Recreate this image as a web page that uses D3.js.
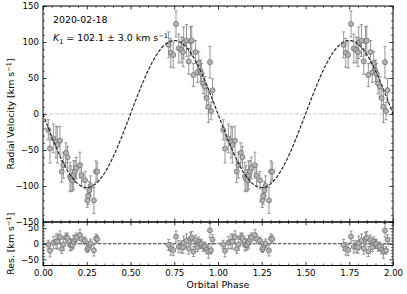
<!DOCTYPE html>
<html>
<head>
<meta charset="utf-8">
<script src="https://cdn.jsdelivr.net/npm/d3@7"></script>
<style>
  body { margin: 0; background: #fff; }
  svg text { font-family: "DejaVu Sans", sans-serif; fill: #000; }
</style>
</head>
<body>
<svg id="container"></svg>
<script>
// observed radial velocities (one cycle, plotted twice)
var phases = [0.030, 0.040, 0.059, 0.074, 0.082, 0.097, 0.107, 0.116, 0.131, 0.140,
              0.154, 0.160, 0.168, 0.175, 0.183, 0.190, 0.211, 0.220, 0.240, 0.253,
              0.258, 0.265, 0.272, 0.291, 0.303, 0.310,
              0.718, 0.730, 0.744, 0.760, 0.776, 0.790, 0.800, 0.804, 0.820, 0.833,
              0.843, 0.850, 0.859, 0.871, 0.882, 0.890, 0.900, 0.905, 0.915, 0.925,
              0.935, 0.945, 0.954, 0.960, 0.969];
var rv = [-22, -48, -34, -39, -43, -37, -80, -71, -54, -60,
          -87, -90, -92, -85, -80, -75, -71, -85, -92, -120,
          -114, -106, -100, -120, -80, -80,
          96, 85, 82, 125, 91, 89, 86, 99, 102, 73,
          101, 102, 54, 86, 58, 71, 60, 56, 42, 38,
          22, 10, 72, 4, 33];
var rvErr = [14, 20, 20, 22, 25, 20, 15, 18, 14, 15,
             20, 18, 15, 20, 15, 15, 18, 15, 12, 10,
             12, 12, 14, 18, 15, 12,
             18, 20, 18, 18, 20, 18, 20, 22, 22, 18,
             20, 20, 16, 16, 14, 16, 15, 14, 14, 14,
             14, 22, 22, 12, 16];
var K1 = 102.1;
var xTicks = [0, 0.25, 0.5, 0.75, 1.0, 1.25, 1.5, 1.75, 2.0];
var yTicks = [-150, -100, -50, 0, 50, 100, 150];
var resTicks = [-50, 0, 50];

var W = 407, H = 294;
var left = 43, right = 393, topY = 6, mid = 222, bottom = 265.5;

var svg = d3.select("#container").attr("width", W).attr("height", H);

var x = d3.scaleLinear().domain([0, 2]).range([left, right]);
var y = d3.scaleLinear().domain([-150, 150]).range([mid, topY]);
var yr = d3.scaleLinear().domain([-70, 70]).range([bottom, mid]);

function model(p) { return -K1 * Math.sin(2 * Math.PI * p); }

// both cycles
var pts = [];
for (var c = 0; c < 2; c++) {
  for (var i = 0; i < phases.length; i++) {
    pts.push({p: phases[i] + c, v: rv[i], e: rvErr[i], r: rv[i] - model(phases[i])});
  }
}

var clipM = svg.append("clipPath").attr("id", "clipM");
clipM.append("rect").attr("x", left).attr("y", topY).attr("width", right - left).attr("height", mid - topY);
var clipR = svg.append("clipPath").attr("id", "clipR");
clipR.append("rect").attr("x", left).attr("y", mid).attr("width", right - left).attr("height", bottom - mid);

// zero lines
svg.append("line").attr("x1", left).attr("x2", right).attr("y1", y(0)).attr("y2", y(0))
  .attr("stroke", "#c8c8c8").attr("stroke-width", 1).attr("stroke-dasharray", "4,2");
svg.append("line").attr("x1", left).attr("x2", right).attr("y1", yr(0)).attr("y2", yr(0))
  .attr("stroke", "#333").attr("stroke-width", 1.1).attr("stroke-dasharray", "3.5,1.5");

function drawPoints(g, ys, key) {
  var eb = g.selectAll(".eb").data(pts).enter().append("g");
  eb.append("line")
    .attr("x1", d => x(d.p)).attr("x2", d => x(d.p))
    .attr("y1", d => ys(d[key] - d.e)).attr("y2", d => ys(d[key] + d.e))
    .attr("stroke", "#8a8a8a").attr("stroke-width", 0.9);
  eb.append("line")
    .attr("x1", d => x(d.p) - 1.6).attr("x2", d => x(d.p) + 1.6)
    .attr("y1", d => ys(d[key] - d.e)).attr("y2", d => ys(d[key] - d.e))
    .attr("stroke", "#8a8a8a").attr("stroke-width", 0.9);
  eb.append("line")
    .attr("x1", d => x(d.p) - 1.6).attr("x2", d => x(d.p) + 1.6)
    .attr("y1", d => ys(d[key] + d.e)).attr("y2", d => ys(d[key] + d.e))
    .attr("stroke", "#8a8a8a").attr("stroke-width", 0.9);
  g.selectAll("circle").data(pts).enter().append("circle")
    .attr("cx", d => x(d.p)).attr("cy", d => ys(d[key])).attr("r", 2.5)
    .attr("fill", "#b4b4b4").attr("stroke", "#707070").attr("stroke-width", 0.8);
}

var gM = svg.append("g").attr("clip-path", "url(#clipM)");
drawPoints(gM, y, "v");
var gR = svg.append("g").attr("clip-path", "url(#clipR)");
drawPoints(gR, yr, "r");

// fit curve
var curve = d3.range(0, 2.0001, 0.005);
svg.append("path").datum(curve)
  .attr("d", d3.line().x(d => x(d)).y(d => y(model(d))))
  .attr("fill", "none").attr("stroke", "#2a2a2a").attr("stroke-width", 1.2)
  .attr("stroke-dasharray", "3.5,1.5").attr("clip-path", "url(#clipM)");

// axes with inward ticks
function ticksIn(scale, orient, pos, major, minorStep, labels) {
  var dom = scale.domain();
  var minor = d3.range(Math.ceil(dom[0] / minorStep) * minorStep, dom[1] + 1e-9, minorStep)
    .filter(v => major.every(m => Math.abs(m - v) > 1e-6));
  var axis = orient(scale).tickValues(minor).tickSize(-2).tickFormat("");
  var gm = svg.append("g").attr("transform", pos).call(axis);
  gm.select(".domain").remove();
  var axM = orient(scale).tickValues(major).tickSize(-3.5).tickPadding(labels ? 4 : 3)
    .tickFormat(labels ? labels : "");
  var g = svg.append("g").attr("transform", pos).call(axM);
  g.select(".domain").remove();
  g.selectAll("line").attr("stroke", "#000").attr("stroke-width", 0.8);
  gm.selectAll("line").attr("stroke", "#000").attr("stroke-width", 0.6);
  g.selectAll("text").attr("font-size", 8.6).attr("font-family", "DejaVu Sans");
  return g;
}
var fmtX = d => d3.format(".2f")(d);
var fmtY = d => (d < 0 ? "\u2212" + Math.abs(d) : d);

ticksIn(x, d3.axisBottom, "translate(0," + mid + ")", xTicks, 0.05, null);
ticksIn(x, d3.axisTop, "translate(0," + topY + ")", xTicks, 0.05, null);
ticksIn(x, d3.axisTop, "translate(0," + mid + ")", xTicks, 0.05, null);
ticksIn(x, d3.axisBottom, "translate(0," + bottom + ")", xTicks, 0.05, fmtX);
ticksIn(y, d3.axisLeft, "translate(" + left + ",0)", yTicks, 10, fmtY);
ticksIn(y, d3.axisRight, "translate(" + right + ",0)", yTicks, 10, null);
ticksIn(yr, d3.axisLeft, "translate(" + left + ",0)", resTicks, 10, fmtY);
ticksIn(yr, d3.axisRight, "translate(" + right + ",0)", resTicks, 10, null);

// frames
svg.append("rect").attr("x", left).attr("y", topY).attr("width", right - left).attr("height", mid - topY)
  .attr("fill", "none").attr("stroke", "#000").attr("stroke-width", 1);
svg.append("rect").attr("x", left).attr("y", mid).attr("width", right - left).attr("height", bottom - mid)
  .attr("fill", "none").attr("stroke", "#000").attr("stroke-width", 1);

// labels
svg.append("text").attr("x", (left + right) / 2).attr("y", 288).attr("text-anchor", "middle")
  .attr("font-size", 9.4).text("Orbital Phase");
var yl = svg.append("text").attr("transform", "translate(14," + (topY + mid) / 2 + ") rotate(-90)")
  .attr("text-anchor", "middle").attr("font-size", 9.4);
yl.append("tspan").text("Radial Velocity [km s");
yl.append("tspan").attr("dy", -3.5).attr("font-size", 6.6).text("\u22121");
yl.append("tspan").attr("dy", 3.5).text("]");
var rl = svg.append("text").attr("transform", "translate(14," + (mid + bottom) / 2 + ") rotate(-90)")
  .attr("text-anchor", "middle").attr("font-size", 9.4);
rl.append("tspan").text("Res. [km s");
rl.append("tspan").attr("dy", -3.5).attr("font-size", 6.6).text("\u22121");
rl.append("tspan").attr("dy", 3.5).text("]");

svg.append("text").attr("x", 53).attr("y", 23).attr("font-size", 9.4).text("2020-02-18");
var kt = svg.append("text").attr("x", 53).attr("y", 41).attr("font-size", 9.4);
kt.append("tspan").attr("font-style", "italic").text("K");
kt.append("tspan").attr("dy", 2.5).attr("font-size", 6.6).text("1");
kt.append("tspan").attr("dy", -2.5).text(" = 102.1 \u00b1 3.0 km s");
kt.append("tspan").attr("dy", -3.5).attr("font-size", 6.6).text("\u22121");
</script>
</body>
</html>
